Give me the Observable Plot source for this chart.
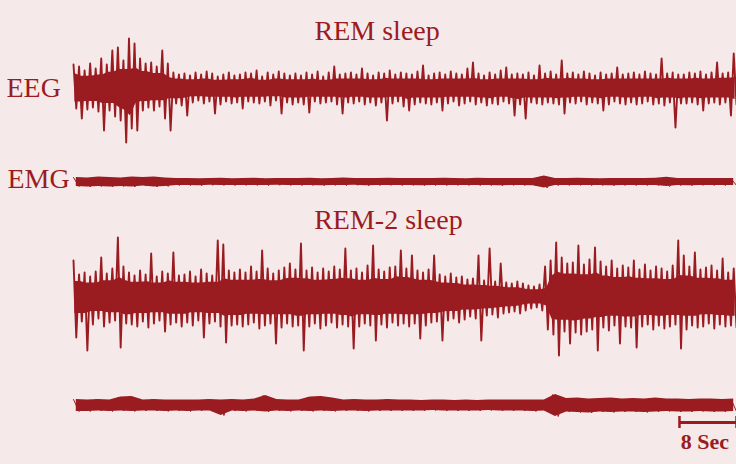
<!DOCTYPE html>
<html>
<head>
<meta charset="utf-8">
<script src="https://cdn.jsdelivr.net/npm/d3@7"></script>
<script src="https://cdn.jsdelivr.net/npm/@observablehq/plot@0.6"></script>
<style>
  html, body { margin: 0; padding: 0; background: #f5e9ea; }
  #chart { width: 736px; height: 464px; }
</style>
</head>
<body>
<div id="chart"></div>
<script>
// Recording length (seconds) and scale bar
const durationSec = 93;
const scaleBarSec = 8;
const titles = ["REM sleep", "REM-2 sleep"];
const channelLabels = ["EEG", "EMG"];
const scaleLabel = "8 Sec";

// EEG amplitudes (alternating peaks / troughs)
const eegREM = [
  24,-20,22,-30,18,-21,25,-19,20,-23,30,-42,24,-22,38,-28,41,-32,28,-54,
  50,-40,45,-42,30,-22,25,-19,26,-22,22,-18,38,-30,25,-42,16,-15,14,-17,
  15,-27,13,-14,16,-12,14,-15,17,-13,15,-25,12,-16,14,-13,16,-15,13,-14,
  14,-20,16,-13,15,-14,18,-15,12,-13,16,-17,14,-12,17,-25,15,-14,13,-16,
  15,-14,13,-16,16,-24,14,-13,17,-15,12,-14,16,-13,22,-16,14,-25,15,-14,
  16,-15,14,-13,20,-16,15,-14,13,-17,16,-14,15,-32,18,-15,14,-13,16,-18,
  15,-22,14,-16,17,-14,23,-15,13,-16,15,-14,16,-22,14,-15,17,-13,15,-17,
  14,-15,20,-13,26,-16,15,-14,13,-17,16,-15,14,-16,18,-13,21,-15,14,-27,
  15,-16,14,-30,16,-14,13,-15,23,-16,15,-14,17,-15,14,-16,28,-25,15,-14,
  16,-15,14,-13,17,-16,15,-14,13,-15,16,-22,14,-16,15,-13,21,-15,14,-16,
  15,-14,16,-16,14,-15,17,-13,15,-16,14,-15,30,-17,15,-14,16,-39,14,-15,
  14,-15,16,-14,15,-16,17,-22,14,-15,16,-14,26,-16,15,-14,16,-27,35,-16
];
const eegREM2 = [
  36,-41,22,-25,24,-54,20,-28,25,-22,39,-30,23,-26,28,-24,59,-51,30,-27,
  24,-28,21,-30,26,-25,22,-31,43,-27,20,-24,25,-35,23,-28,44,-26,21,-30,
  22,-26,25,-29,20,-24,27,-41,23,-27,21,-25,56,-30,52,-46,26,-29,24,-28,
  27,-30,24,-28,30,-26,25,-32,46,-29,28,-27,23,-47,26,-31,29,-27,33,-30,
  27,-29,53,-54,26,-30,29,-27,24,-32,28,-29,25,-26,30,-31,27,-28,48,-30,
  26,-52,28,-30,24,-27,31,-29,51,-44,27,-28,25,-31,29,-26,30,-29,46,-27,
  28,-30,41,-27,26,-42,24,-29,27,-26,41,-25,22,-44,20,-24,23,-22,19,-26,
  20,-23,17,-20,18,-22,41,-44,16,-19,48,-18,15,-21,33,-17,14,-16,13,-15,
  15,-17,13,-14,11,-12,10,-11,12,-14,30,-33,36,-38,54,-59,39,-35,33,-47,
  34,-36,51,-38,32,-35,37,-33,49,-54,35,-31,30,-34,36,-29,28,-47,31,-30,
  29,-31,36,-51,27,-30,32,-28,26,-33,30,-29,28,-32,25,-30,31,-28,56,-52,
  41,-33,30,-29,44,-31,27,-30,29,-27,31,-32,26,-28,38,-30,24,-29,28,-31
];
// EMG envelope (alternating upper / lower edge)
const emgREM = [
  4.5,-4.5,4,-5,5,-4.5,4.5,-5,4,-4.5,5,-5,4.5,-4,5,-5,4,-4.5,3.5,-3.5,
  3.5,-3.5,3.2,-3.8,3.5,-3.3,3.8,-3.5,3.3,-3.6,3.5,-3.4,3.7,-3.5,3.2,-3.6,3.5,-3.3,3.6,-3.5,
  3.4,-3.6,3.8,-3.5,3.3,-3.7,3.5,-3.4,4,-3.6,3.5,-3.3,3.6,-3.8,3.4,-3.5,3.7,-3.4,3.5,-3.6,
  3.5,-3.4,3.6,-3.7,3.4,-3.5,3.8,-3.6,3.5,-3.4,3.3,-3.5,3.7,-3.6,3.4,-3.5,3.6,-3.8,3.5,-3.4,
  3.6,-3.5,3.4,-3.7,6,-6,3.5,-3.6,3.4,-3.5,3.7,-3.4,3.5,-3.6,3.3,-3.5,3.6,-3.7,3.4,-3.5,
  3.5,-3.6,3.4,-3.5,3.7,-3.4,4.8,-4.5,3.5,-3.6,3.4,-3.7,3.5,-3.4,3.6,-3.5,3.4,-3.6,3.5,-3.4
];
const emgREM2 = [
  6,-6,5.5,-6,6,-5.5,5.5,-6,8.5,-5.5,9,-6,5.5,-5.5,6,-5.5,5.5,-6,5.5,-5.5,
  5.5,-6,5.5,-5.5,6,-5.5,5.5,-10,6,-5.5,5.5,-6,6.5,-5.5,10,-6.5,6,-5.5,5.5,-6,
  5.5,-5.5,8.5,-6,9,-5.5,7.5,-6,5.5,-5.5,6,-5.5,5.5,-6,5.5,-5.5,6,-5.5,5.5,-5.5,
  5.5,-5.5,5,-5.5,5.5,-5,5.5,-5.5,5,-5.5,5.5,-5.5,5,-5.5,5.5,-5,5.5,-5.5,5.5,-5.5,
  5.5,-5.5,5.5,-6,5.5,-5.5,11,-11,7,-6.5,7.5,-7,6.5,-7.5,7,-6.5,7.5,-7,6.5,-6.5,
  7,-6.5,6.5,-7,7.5,-6.5,6.5,-6,6.5,-6.5,6,-6.5,6.5,-6,6.5,-6.5,6,-6.5,6.5,-6
];

// Layout (vertical position of each trace baseline, in px)
const layout = { eegREM: 88, emgREM: 181.5, eegREM2: 296, emgREM2: 405 };
const ink = "#9a1c21";
const bg = "#f5e9ea";
const coreShare = 0.68;   // solid part of the EEG band

function trace(values, base) {
  const n = values.length;
  return values.map((v, i) => ({ t: i * durationSec / (n - 1), y: base - v }));
}
// pairs of (upper, lower) edges; `core` keeps only the part shared with neighbours
function envelope(values, base, core = 0) {
  const n = values.length, ups = [], downs = [];
  for (let i = 0; i + 1 < n; i += 2) { ups.push(values[i]); downs.push(values[i + 1]); }
  const last = ups.length - 1;
  return ups.map((u, p) => {
    let top = u, bot = downs[p];
    if (core) {
      top = core * Math.min(ups[Math.max(p - 1, 0)], u, ups[Math.min(p + 1, last)]);
      bot = core * Math.max(downs[Math.max(p - 1, 0)], downs[p], downs[Math.min(p + 1, last)]);
    }
    return { t: (2 * p + 0.5) * durationSec / (n - 1), top: base - top, bottom: base - bot };
  });
}

const serif = "'Liberation Serif', 'DejaVu Serif', serif";

const chart = Plot.plot({
  width: 736,
  height: 464,
  marginTop: 0, marginBottom: 0, marginLeft: 73, marginRight: 0,
  x: { domain: [0, durationSec], axis: null },
  y: { domain: [0, 464], range: [0, 464], axis: null },
  style: { background: bg, fontFamily: serif },
  marks: [
    Plot.areaY(envelope(eegREM, layout.eegREM, coreShare), { x: "t", y1: "bottom", y2: "top", fill: ink }),
    Plot.line(trace(eegREM, layout.eegREM), { x: "t", y: "y", stroke: ink, strokeWidth: 1.9 }),
    Plot.areaY(envelope(emgREM, layout.emgREM), { x: "t", y1: "bottom", y2: "top", fill: ink }),
    Plot.line(trace(emgREM, layout.emgREM), { x: "t", y: "y", stroke: ink, strokeWidth: 1 }),
    Plot.areaY(envelope(eegREM2, layout.eegREM2, coreShare), { x: "t", y1: "bottom", y2: "top", fill: ink }),
    Plot.line(trace(eegREM2, layout.eegREM2), { x: "t", y: "y", stroke: ink, strokeWidth: 1.9 }),
    Plot.areaY(envelope(emgREM2, layout.emgREM2), { x: "t", y1: "bottom", y2: "top", fill: ink }),
    Plot.line(trace(emgREM2, layout.emgREM2), { x: "t", y: "y", stroke: ink, strokeWidth: 1 }),
    // titles
    Plot.text([titles[0]], { x: durationSec * 0.458, y: 31, text: d => d, fill: ink, fontSize: 28, lineAnchor: "middle" }),
    Plot.text([titles[1]], { x: durationSec * 0.475, y: 220, text: d => d, fill: ink, fontSize: 28, lineAnchor: "middle" }),
    // channel labels
    Plot.text([channelLabels[0]], { frameAnchor: "left", dx: -67, y: 88, text: d => d, fill: ink, fontSize: 28, textAnchor: "start", lineAnchor: "middle" }),
    Plot.text([channelLabels[1]], { frameAnchor: "left", dx: -66, y: 179, text: d => d, fill: ink, fontSize: 28, textAnchor: "start", lineAnchor: "middle" }),
    // scale bar
    Plot.ruleY([422], { x1: durationSec - scaleBarSec, x2: durationSec, stroke: ink, strokeWidth: 3 }),
    Plot.ruleX([durationSec - scaleBarSec, durationSec], { y1: 416, y2: 428, stroke: ink, strokeWidth: 2.5 }),
    Plot.text([scaleLabel], { x: durationSec - scaleBarSec / 2, dx: -3, y: 441, text: d => d, fill: ink, fontSize: 22, fontWeight: "bold", lineAnchor: "middle" })
  ]
});
document.getElementById("chart").append(chart);
</script>
</body>
</html>
